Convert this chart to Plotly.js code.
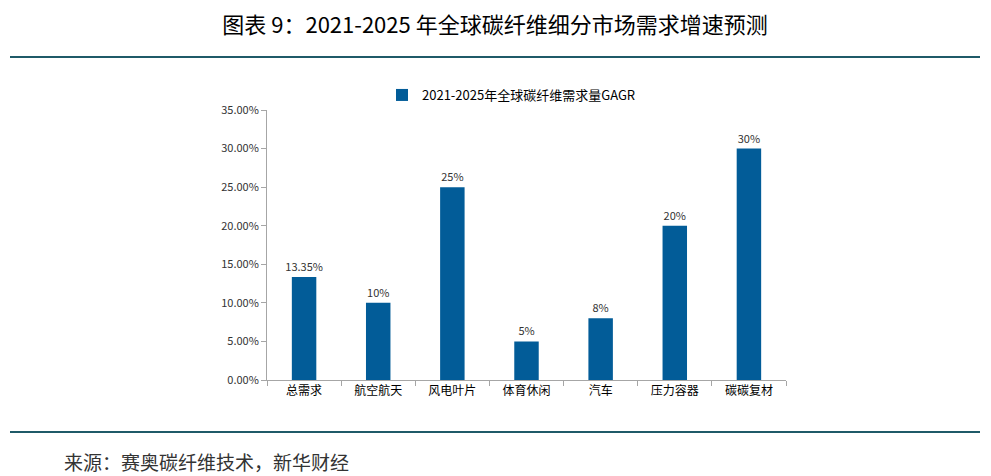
<!DOCTYPE html>
<html>
<head>
<meta charset="utf-8">
<script src="https://cdn.plot.ly/plotly-3.0.1.min.js"></script>
<style>html,body{margin:0;padding:0;background:#fff;}#chart{width:991px;height:476px;}</style>
</head>
<body>
<div id="chart"></div>
<script>
const categories = ['总需求','航空航天','风电叶片','体育休闲','汽车','压力容器','碳碳复材'];
const cagrValues = [0.1335, 0.10, 0.25, 0.05, 0.08, 0.20, 0.30];
const valueLabels = ['13.35%','10%','25%','5%','8%','20%','30%'];
const seriesName = '2021-2025年全球碳纤维需求量GAGR';
const tickValues = [0, 0.05, 0.10, 0.15, 0.20, 0.25, 0.30, 0.35];
const tickLabels = ['0.00%','5.00%','10.00%','15.00%','20.00%','25.00%','30.00%','35.00%'];
const chartTitle = '图表 9：2021-2025 年全球碳纤维细分市场需求增速预测';
const sourceText = '来源：赛奥碳纤维技术，新华财经';

const FONT = 'Noto Sans CJK SC, sans-serif';
const data = [{
  type: 'bar',
  x: categories,
  y: cagrValues,
  name: seriesName,
  text: valueLabels,
  textposition: 'outside',
  constraintext: 'none',
  textfont: {family: FONT, size: 11, color: '#333'},
  cliponaxis: false,
  marker: {color: '#025c98'},
  width: 0.33,
  showlegend: true,
  hoverinfo: 'x+y'
}];

const layout = {
  width: 991, height: 476,
  margin: {l: 267, r: 205, t: 110, b: 96},
  paper_bgcolor: '#fff', plot_bgcolor: '#fff',
  font: {family: FONT, color: '#333'},
  uniformtext: {mode: false},
  title: {
    text: chartTitle,
    font: {family: FONT, size: 22, color: '#000'},
    x: 495/991, xanchor: 'center', xref: 'container',
    y: 1 - 25/476, yanchor: 'middle', yref: 'container'
  },
  showlegend: true,
  legend: {
    x: (382-267)/519, xanchor: 'left',
    y: (380-95)/270, yanchor: 'middle',
    orientation: 'h',
    font: {family: FONT, size: 13, color: '#000'},
    itemwidth: 30,
    bgcolor: 'rgba(0,0,0,0)'
  },
  xaxis: {
    type: 'category',
    showline: true, linecolor: '#a6a6a6', linewidth: 1,
    ticks: 'outside', tickson: 'boundaries', ticklen: 5, tickcolor: '#a6a6a6',
    tickfont: {family: FONT, size: 12, color: '#000'},
    showgrid: false, zeroline: false
  },
  yaxis: {
    range: [0, 0.35],
    tickvals: tickValues, ticktext: tickLabels,
    showline: true, linecolor: '#a6a6a6', linewidth: 1,
    ticks: 'outside', ticklen: 5, tickcolor: '#a6a6a6',
    tickfont: {family: FONT, size: 11, color: '#333'},
    showgrid: false, zeroline: false
  },
  bargap: 0.67,
  shapes: [
    {type: 'line', xref: 'paper', yref: 'paper',
     x0: (10-267)/519, x1: (980-267)/519, y0: (380-57)/270, y1: (380-57)/270,
     line: {color: '#1f5a68', width: 2}},
    {type: 'line', xref: 'paper', yref: 'paper',
     x0: (10-267)/519, x1: (980-267)/519, y0: (380-432)/270, y1: (380-432)/270,
     line: {color: '#1f5a68', width: 2}}
  ],
  annotations: [
    {text: sourceText, xref: 'paper', yref: 'paper',
     x: (62-267)/519, xanchor: 'left', y: (380-461)/270, yanchor: 'middle',
     showarrow: false, font: {family: FONT, size: 19, color: '#333'}}
  ]
};

Plotly.newPlot('chart', data, layout, {displayModeBar: false, staticPlot: true});
</script>
</body>
</html>
